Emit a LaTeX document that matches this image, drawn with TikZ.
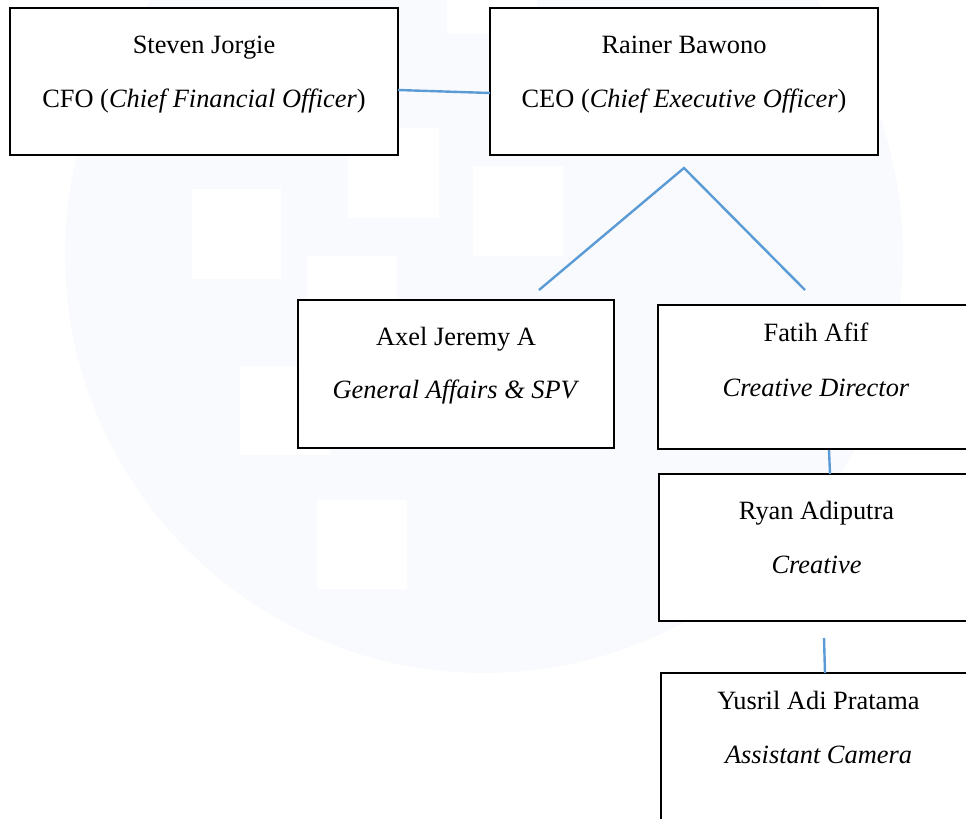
\documentclass[tikz,border=0pt]{standalone}
\usepackage{fontspec}
\setmainfont{Liberation Serif}
\usetikzlibrary{calc}
\definecolor{linkblue}{HTML}{5B9BD5}
\definecolor{wmark}{HTML}{F9FAFD}
\tikzset{
  orgbox/.style={draw=black, line width=2.1pt, fill=white, inner sep=0pt, outer sep=0pt},
  orgtext/.style={anchor=base, inner sep=0pt, font=\fontsize{19.8}{24}\selectfont},
  link/.style={draw=linkblue, line width=1.8pt},
  wsq/.style={fill=white, draw=none}
}
\begin{document}
\begin{tikzpicture}[x=0.75pt, y=-0.75pt]
\useasboundingbox (0,0) rectangle (966,818);
\clip (0,0) rectangle (966,818);
% faint watermark
\fill[wmark] (484,254) circle[radius=314.25pt];
\fill[wsq] (192,189) rectangle (281,279);
\fill[wsq] (348,128) rectangle (439,218);
\fill[wsq] (473,166) rectangle (563,256);
\fill[wsq] (307,256) rectangle (397,344);
\fill[wsq] (240,366) rectangle (330,455);
\fill[wsq] (317,500) rectangle (407,589);
\fill[wsq] (447,0) rectangle (537,34);
% boxes
\node[orgbox, minimum width=291pt, minimum height=110.25pt] (cfo) at (204,81.5) {};
\node[orgbox, minimum width=291pt, minimum height=110.25pt] (ceo) at (684,81.5) {};
\node[orgbox, minimum width=237pt, minimum height=111pt] (axel) at (456,374) {};
\node[orgbox, minimum width=237pt, minimum height=108pt] (fatih) at (816,377) {};
\node[orgbox, minimum width=236.25pt, minimum height=110.25pt] (ryan) at (816.5,547.5) {};
\node[orgbox, minimum width=236.25pt, minimum height=110.25pt] (yusril) at (818.5,746.5) {};
% texts
\node[orgtext] (cfo1) at ($(cfo.north)+(0,45)$) {Steven Jorgie};
\node[orgtext] (cfo2) at ($(cfo.north)+(0,99)$) {CFO (\textit{Chief Financial Officer})};
\node[orgtext] (ceo1) at ($(ceo.north)+(0,45)$) {Rainer Bawono};
\node[orgtext] (ceo2) at ($(ceo.north)+(0,99)$) {CEO (\textit{Chief Executive Officer})};
\node[orgtext] (axel1) at ($(axel.north)+(0,45)$) {Axel Jeremy A};
\node[orgtext] (axel2) at ($(axel.north)+(0,98)$) {\textit{General Affairs \& SPV}};
\node[orgtext] (fatih1) at ($(fatih.north)+(0,36)$) {Fatih Afif};
\node[orgtext] (fatih2) at ($(fatih.north)+(0,91)$) {\textit{Creative Director}};
\node[orgtext] (ryan1) at ($(ryan.north)+(0,45)$) {Ryan Adiputra};
\node[orgtext] (ryan2) at ($(ryan.north)+(0,99)$) {\textit{Creative}};
\node[orgtext] (yusril1) at ($(yusril.north)+(0,36)$) {Yusril Adi Pratama};
\node[orgtext] (yusril2) at ($(yusril.north)+(0,90)$) {\textit{Assistant Camera}};
% connector points
\coordinate (cfoR) at (398,90);
\coordinate (ceoL) at (490,93);
\coordinate (apex) at (684,168);
\coordinate (axelT) at (539,290);
\coordinate (fatihT) at (805,290);
\coordinate (fatihB) at (829,450);
\coordinate (ryanT) at (830,474);
\coordinate (ryanB) at (824,638);
\coordinate (yusrilT) at (825,673);
% connectors
\draw[link] (cfoR) -- (ceoL);
\draw[link] (axelT) -- (apex) -- (fatihT);
\draw[link] (fatihB) -- (ryanT);
\draw[link] (ryanB) -- (yusrilT);
\end{tikzpicture}
\end{document}
